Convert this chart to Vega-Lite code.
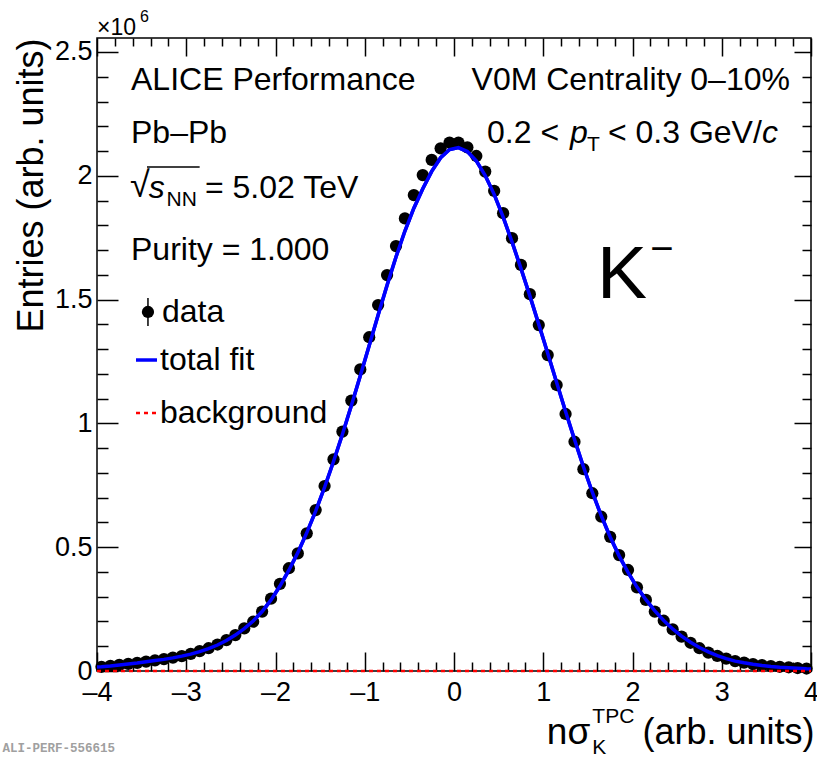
{
  "$schema": "https://vega.github.io/schema/vega-lite/v6.json",
  "width": 714,
  "height": 633,
  "autosize": "none",
  "padding": {"left": 97, "top": 38, "right": 6, "bottom": 88},
  "background": "white",
  "config": {
    "view": {"stroke": "black", "strokeWidth": 1.5},
    "font": "Liberation Sans",
    "axis": {"domain": false, "grid": false, "tickColor": "black", "tickWidth": 1.5, "labelColor": "black", "labelFont": "Liberation Sans", "labelFontSize": 27, "titleColor": "black", "titleFont": "Liberation Sans", "titleFontWeight": "normal"},
    "text": {"font": "Liberation Sans", "color": "black", "baseline": "middle", "align": "left"}
  },
  "datasets": {
    "points": [
      {"x": -3.95, "y": 17000}, {"x": -3.85, "y": 21000}, {"x": -3.75, "y": 25000}, {"x": -3.65, "y": 29000},
      {"x": -3.55, "y": 33000}, {"x": -3.45, "y": 38000}, {"x": -3.35, "y": 43000}, {"x": -3.25, "y": 48000},
      {"x": -3.15, "y": 54000}, {"x": -3.05, "y": 60000}, {"x": -2.95, "y": 69000}, {"x": -2.85, "y": 80000},
      {"x": -2.75, "y": 92000}, {"x": -2.65, "y": 107000}, {"x": -2.55, "y": 125000}, {"x": -2.45, "y": 145000},
      {"x": -2.35, "y": 172000}, {"x": -2.25, "y": 199000}, {"x": -2.15, "y": 240000}, {"x": -2.05, "y": 292000},
      {"x": -1.95, "y": 352000}, {"x": -1.85, "y": 415000}, {"x": -1.75, "y": 475000}, {"x": -1.65, "y": 556000},
      {"x": -1.55, "y": 650000}, {"x": -1.45, "y": 747000}, {"x": -1.35, "y": 855000}, {"x": -1.25, "y": 967000},
      {"x": -1.15, "y": 1092000}, {"x": -1.05, "y": 1218000}, {"x": -0.95, "y": 1348000}, {"x": -0.85, "y": 1478000},
      {"x": -0.75, "y": 1599000}, {"x": -0.65, "y": 1716000}, {"x": -0.55, "y": 1828000}, {"x": -0.45, "y": 1922000},
      {"x": -0.35, "y": 2003000}, {"x": -0.25, "y": 2064000}, {"x": -0.15, "y": 2111000}, {"x": -0.05, "y": 2134000},
      {"x": 0.05, "y": 2134000}, {"x": 0.15, "y": 2115000}, {"x": 0.25, "y": 2080000}, {"x": 0.35, "y": 2017000},
      {"x": 0.45, "y": 1939000}, {"x": 0.55, "y": 1849000}, {"x": 0.65, "y": 1748000}, {"x": 0.75, "y": 1640000},
      {"x": 0.85, "y": 1522000}, {"x": 0.95, "y": 1397000}, {"x": 1.05, "y": 1276000}, {"x": 1.15, "y": 1155000},
      {"x": 1.25, "y": 1038000}, {"x": 1.35, "y": 926000}, {"x": 1.45, "y": 815000}, {"x": 1.55, "y": 718000},
      {"x": 1.65, "y": 623000}, {"x": 1.75, "y": 542000}, {"x": 1.85, "y": 468000}, {"x": 1.95, "y": 408000},
      {"x": 2.05, "y": 338000}, {"x": 2.15, "y": 287000}, {"x": 2.25, "y": 240000}, {"x": 2.35, "y": 203000},
      {"x": 2.45, "y": 168000}, {"x": 2.55, "y": 139000}, {"x": 2.65, "y": 114000}, {"x": 2.75, "y": 92000},
      {"x": 2.85, "y": 74000}, {"x": 2.95, "y": 61000}, {"x": 3.05, "y": 50000}, {"x": 3.15, "y": 40000},
      {"x": 3.25, "y": 34000}, {"x": 3.35, "y": 28000}, {"x": 3.45, "y": 24000}, {"x": 3.55, "y": 20000},
      {"x": 3.65, "y": 17000}, {"x": 3.75, "y": 15000}, {"x": 3.85, "y": 12000}, {"x": 3.95, "y": 10000}
    ],
    "fit": [
      {"x": -4.0, "y": 16000}, {"x": -3.95, "y": 17000}, {"x": -3.85, "y": 20000}, {"x": -3.75, "y": 24000},
      {"x": -3.65, "y": 28000}, {"x": -3.55, "y": 32000}, {"x": -3.45, "y": 37000}, {"x": -3.35, "y": 42000},
      {"x": -3.25, "y": 47000}, {"x": -3.15, "y": 53000}, {"x": -3.05, "y": 60000}, {"x": -2.95, "y": 68000},
      {"x": -2.85, "y": 78000}, {"x": -2.75, "y": 90000}, {"x": -2.65, "y": 105000}, {"x": -2.55, "y": 123000},
      {"x": -2.45, "y": 145000}, {"x": -2.35, "y": 171000}, {"x": -2.25, "y": 202000}, {"x": -2.15, "y": 240000},
      {"x": -2.05, "y": 287000}, {"x": -1.95, "y": 343000}, {"x": -1.85, "y": 407000}, {"x": -1.75, "y": 478000},
      {"x": -1.65, "y": 558000}, {"x": -1.55, "y": 646000}, {"x": -1.45, "y": 742000}, {"x": -1.35, "y": 846000},
      {"x": -1.25, "y": 956000}, {"x": -1.15, "y": 1072000}, {"x": -1.05, "y": 1192000}, {"x": -0.95, "y": 1315000},
      {"x": -0.85, "y": 1438000}, {"x": -0.75, "y": 1558000}, {"x": -0.65, "y": 1672000}, {"x": -0.55, "y": 1777000},
      {"x": -0.45, "y": 1869000}, {"x": -0.35, "y": 1948000}, {"x": -0.25, "y": 2018000}, {"x": -0.15, "y": 2073000},
      {"x": -0.05, "y": 2106000}, {"x": 0.05, "y": 2114000}, {"x": 0.15, "y": 2098000}, {"x": 0.25, "y": 2060000},
      {"x": 0.35, "y": 2001000}, {"x": 0.45, "y": 1925000}, {"x": 0.55, "y": 1834000}, {"x": 0.65, "y": 1733000},
      {"x": 0.75, "y": 1626000}, {"x": 0.85, "y": 1515000}, {"x": 0.95, "y": 1400000}, {"x": 1.05, "y": 1283000},
      {"x": 1.15, "y": 1165000}, {"x": 1.25, "y": 1048000}, {"x": 1.35, "y": 935000}, {"x": 1.45, "y": 825000},
      {"x": 1.55, "y": 722000}, {"x": 1.65, "y": 627000}, {"x": 1.75, "y": 541000}, {"x": 1.85, "y": 465000},
      {"x": 1.95, "y": 398000}, {"x": 2.05, "y": 339000}, {"x": 2.15, "y": 288000}, {"x": 2.25, "y": 243000},
      {"x": 2.35, "y": 204000}, {"x": 2.45, "y": 170000}, {"x": 2.55, "y": 141000}, {"x": 2.65, "y": 116000},
      {"x": 2.75, "y": 95000}, {"x": 2.85, "y": 77000}, {"x": 2.95, "y": 62000}, {"x": 3.05, "y": 50000},
      {"x": 3.15, "y": 40000}, {"x": 3.25, "y": 33000}, {"x": 3.35, "y": 27000}, {"x": 3.45, "y": 22000},
      {"x": 3.55, "y": 18000}, {"x": 3.65, "y": 15000}, {"x": 3.75, "y": 13000}, {"x": 3.85, "y": 11000},
      {"x": 3.95, "y": 9000}, {"x": 4.0, "y": 8500}
    ],
    "bkg": [{"x": -4.0, "y": 0}, {"x": 4.0, "y": 0}],
    "legendData": [{"x": -3.429, "y": 1450000, "ylo": 1393000, "yhi": 1506000}],
    "legendLines": [
      {"series": "total fit", "x1": -3.563, "x2": -3.328, "y": 1256000},
      {"series": "background", "x1": -3.563, "x2": -3.328, "y": 1042000}
    ],
    "overline": [{"x1": -3.44, "x2": -2.85, "y": 2036000}],
    "textMain": [
      {"x": -3.619, "y": 2387000, "text": "ALICE Performance"},
      {"x": -3.619, "y": 2173000, "text": "Pb–Pb"},
      {"x": -3.619, "y": 1700000, "text": "Purity = 1.000"},
      {"x": -2.79, "y": 1951000, "text": "= 5.02 TeV"},
      {"x": -3.272, "y": 1450000, "text": "data"},
      {"x": -3.294, "y": 1256000, "text": "total fit"},
      {"x": -3.294, "y": 1042000, "text": "background"},
      {"x": 0.37, "y": 2173000, "text": "0.2 <"},
      {"x": 1.725, "y": 2173000, "text": "< 0.3 GeV/"}
    ],
    "sqrtSign": [{"x": -3.63, "y": 1960000, "text": "√"}],
    "textRight": [{"x": 3.764, "y": 2387000, "text": "V0M Centrality 0–10%"}],
    "textItalic": [
      {"x": -3.42, "y": 1951000, "text": "s"},
      {"x": 1.3, "y": 2173000, "text": "p"},
      {"x": 3.45, "y": 2173000, "text": "c"}
    ],
    "textSub": [
      {"x": -3.22, "y": 1902000, "text": "NN"},
      {"x": 1.49, "y": 2124000, "text": "T"}
    ],
    "kaon": [{"x": 1.602, "y": 1599000, "text": "K"}],
    "kaonSup": [{"x": 2.2, "y": 1700000, "text": "−"}],
    "expo": [{"x": -4.0, "y": 2597000, "text": "×10"}],
    "expoSup": [{"x": -3.518, "y": 2641000, "text": "6"}],
    "xTitleMain": [{"x": 1.04, "y": -250000, "text": "nσ"}],
    "xTitleRight": [{"x": 4.04, "y": -250000, "text": "(arb. units)"}],
    "xTitleSup": [{"x": 1.55, "y": -186000, "text": "TPC"}],
    "xTitleSub": [{"x": 1.55, "y": -311000, "text": "K"}],
    "tag": [{"x": -5.06, "y": -311000, "text": "ALI-PERF-556615"}]
  },
  "layer": [
    {
      "data": {"name": "fit"},
      "mark": {"type": "line", "color": "#0000ff", "strokeWidth": 3.5, "clip": true},
      "encoding": {
        "x": {"field": "x", "type": "quantitative", "scale": {"domain": [-4, 4], "nice": false, "zero": false},
          "axis": {"orient": "bottom", "values": [-4, -3, -2, -1, 0, 1, 2, 3, 4], "tickSize": -19, "labelPadding": 27, "labelFlush": false, "labelOverlap": false, "labelExpr": "replace(datum.label, '−', '–')", "title": null}},
        "y": {"field": "y", "type": "quantitative", "scale": {"domain": [0, 2556500], "nice": false, "zero": false},
          "axis": {"orient": "left", "values": [0, 500000, 1000000, 1500000, 2000000, 2500000], "tickSize": -21, "labelPadding": 26, "labelFlush": false, "labelOverlap": false, "labelExpr": "datum.value / 1000000", "title": "Entries (arb. units)", "titleFontSize": 36, "titleAnchor": "end", "titlePadding": 4}}
      }
    },
    {
      "data": {"name": "points"},
      "mark": {"type": "circle", "color": "black", "opacity": 1, "size": 150},
      "encoding": {
        "x": {"field": "x", "type": "quantitative",
          "axis": {"orient": "bottom", "values": [-3.8, -3.6, -3.4, -3.2, -2.8, -2.6, -2.4, -2.2, -1.8, -1.6, -1.4, -1.2, -0.8, -0.6, -0.4, -0.2, 0.2, 0.4, 0.6, 0.8, 1.2, 1.4, 1.6, 1.8, 2.2, 2.4, 2.6, 2.8, 3.2, 3.4, 3.6, 3.8], "tickSize": -9, "labels": false, "title": null}},
        "y": {"field": "y", "type": "quantitative",
          "axis": {"orient": "left", "values": [100000, 200000, 300000, 400000, 600000, 700000, 800000, 900000, 1100000, 1200000, 1300000, 1400000, 1600000, 1700000, 1800000, 1900000, 2100000, 2200000, 2300000, 2400000], "tickSize": -11, "labels": false, "title": null}}
      }
    },
    {
      "data": {"name": "fit"},
      "mark": {"type": "line", "color": "#0000ff", "strokeWidth": 3.5, "clip": true},
      "encoding": {
        "x": {"field": "x", "type": "quantitative", "axis": null},
        "y": {"field": "y", "type": "quantitative", "axis": null}
      }
    },
    {
      "data": {"name": "bkg"},
      "mark": {"type": "line", "color": "#ff0000", "strokeWidth": 2.5, "strokeDash": [4, 4]},
      "encoding": {
        "x": {"field": "x", "type": "quantitative",
          "axis": {"orient": "top", "values": [-4, -3, -2, -1, 0, 1, 2, 3, 4], "tickSize": -18, "labels": false, "title": null}},
        "y": {"field": "y", "type": "quantitative",
          "axis": {"orient": "right", "values": [0, 500000, 1000000, 1500000, 2000000, 2500000], "tickSize": -17, "labels": false, "title": null}}
      }
    },
    {
      "data": {"name": "legendLines"},
      "transform": [{"filter": "datum.series == 'total fit'"}],
      "mark": {"type": "rule", "color": "#0000ff", "strokeWidth": 3.5},
      "encoding": {
        "x": {"field": "x1", "type": "quantitative",
          "axis": {"orient": "top", "values": [-3.8, -3.6, -3.4, -3.2, -2.8, -2.6, -2.4, -2.2, -1.8, -1.6, -1.4, -1.2, -0.8, -0.6, -0.4, -0.2, 0.2, 0.4, 0.6, 0.8, 1.2, 1.4, 1.6, 1.8, 2.2, 2.4, 2.6, 2.8, 3.2, 3.4, 3.6, 3.8], "tickSize": -8, "labels": false, "title": null}},
        "x2": {"field": "x2"},
        "y": {"field": "y", "type": "quantitative",
          "axis": {"orient": "right", "values": [100000, 200000, 300000, 400000, 600000, 700000, 800000, 900000, 1100000, 1200000, 1300000, 1400000, 1600000, 1700000, 1800000, 1900000, 2100000, 2200000, 2300000, 2400000], "tickSize": -9, "labels": false, "title": null}}
      }
    },
    {
      "data": {"name": "legendLines"},
      "transform": [{"filter": "datum.series == 'background'"}],
      "mark": {"type": "rule", "color": "#ff0000", "strokeWidth": 2.5, "strokeDash": [4, 4]},
      "encoding": {
        "x": {"field": "x1", "type": "quantitative", "axis": null},
        "x2": {"field": "x2"},
        "y": {"field": "y", "type": "quantitative", "axis": null}
      }
    },
    {
      "data": {"name": "legendData"},
      "mark": {"type": "rule", "color": "black", "strokeWidth": 1.5},
      "encoding": {
        "x": {"field": "x", "type": "quantitative", "axis": null},
        "y": {"field": "ylo", "type": "quantitative", "axis": null},
        "y2": {"field": "yhi"}
      }
    },
    {
      "data": {"name": "legendData"},
      "mark": {"type": "circle", "color": "black", "opacity": 1, "size": 150},
      "encoding": {
        "x": {"field": "x", "type": "quantitative", "axis": null},
        "y": {"field": "y", "type": "quantitative", "axis": null}
      }
    },
    {
      "data": {"name": "overline"},
      "mark": {"type": "rule", "color": "black", "strokeWidth": 1.5},
      "encoding": {
        "x": {"field": "x1", "type": "quantitative", "axis": null},
        "x2": {"field": "x2"},
        "y": {"field": "y", "type": "quantitative", "axis": null}
      }
    },
    {
      "data": {"name": "textMain"},
      "mark": {"type": "text", "fontSize": 32},
      "encoding": {
        "x": {"field": "x", "type": "quantitative", "axis": null},
        "y": {"field": "y", "type": "quantitative", "axis": null},
        "text": {"field": "text"}
      }
    },
    {
      "data": {"name": "sqrtSign"},
      "mark": {"type": "text", "fontSize": 36},
      "encoding": {
        "x": {"field": "x", "type": "quantitative", "axis": null},
        "y": {"field": "y", "type": "quantitative", "axis": null},
        "text": {"field": "text"}
      }
    },
    {
      "data": {"name": "textRight"},
      "mark": {"type": "text", "fontSize": 32, "align": "right"},
      "encoding": {
        "x": {"field": "x", "type": "quantitative", "axis": null},
        "y": {"field": "y", "type": "quantitative", "axis": null},
        "text": {"field": "text"}
      }
    },
    {
      "data": {"name": "textItalic"},
      "mark": {"type": "text", "fontSize": 32, "fontStyle": "italic"},
      "encoding": {
        "x": {"field": "x", "type": "quantitative", "axis": null},
        "y": {"field": "y", "type": "quantitative", "axis": null},
        "text": {"field": "text"}
      }
    },
    {
      "data": {"name": "textSub"},
      "mark": {"type": "text", "fontSize": 21},
      "encoding": {
        "x": {"field": "x", "type": "quantitative", "axis": null},
        "y": {"field": "y", "type": "quantitative", "axis": null},
        "text": {"field": "text"}
      }
    },
    {
      "data": {"name": "kaon"},
      "mark": {"type": "text", "fontSize": 75},
      "encoding": {
        "x": {"field": "x", "type": "quantitative", "axis": null},
        "y": {"field": "y", "type": "quantitative", "axis": null},
        "text": {"field": "text"}
      }
    },
    {
      "data": {"name": "kaonSup"},
      "mark": {"type": "text", "fontSize": 40},
      "encoding": {
        "x": {"field": "x", "type": "quantitative", "axis": null},
        "y": {"field": "y", "type": "quantitative", "axis": null},
        "text": {"field": "text"}
      }
    },
    {
      "data": {"name": "expo"},
      "mark": {"type": "text", "fontSize": 23},
      "encoding": {
        "x": {"field": "x", "type": "quantitative", "axis": null},
        "y": {"field": "y", "type": "quantitative", "axis": null},
        "text": {"field": "text"}
      }
    },
    {
      "data": {"name": "expoSup"},
      "mark": {"type": "text", "fontSize": 16},
      "encoding": {
        "x": {"field": "x", "type": "quantitative", "axis": null},
        "y": {"field": "y", "type": "quantitative", "axis": null},
        "text": {"field": "text"}
      }
    },
    {
      "data": {"name": "xTitleMain"},
      "mark": {"type": "text", "fontSize": 37},
      "encoding": {
        "x": {"field": "x", "type": "quantitative", "axis": null},
        "y": {"field": "y", "type": "quantitative", "axis": null},
        "text": {"field": "text"}
      }
    },
    {
      "data": {"name": "xTitleRight"},
      "mark": {"type": "text", "fontSize": 36, "align": "right"},
      "encoding": {
        "x": {"field": "x", "type": "quantitative", "axis": null},
        "y": {"field": "y", "type": "quantitative", "axis": null},
        "text": {"field": "text"}
      }
    },
    {
      "data": {"name": "xTitleSup"},
      "mark": {"type": "text", "fontSize": 21},
      "encoding": {
        "x": {"field": "x", "type": "quantitative", "axis": null},
        "y": {"field": "y", "type": "quantitative", "axis": null},
        "text": {"field": "text"}
      }
    },
    {
      "data": {"name": "xTitleSub"},
      "mark": {"type": "text", "fontSize": 21},
      "encoding": {
        "x": {"field": "x", "type": "quantitative", "axis": null},
        "y": {"field": "y", "type": "quantitative", "axis": null},
        "text": {"field": "text"}
      }
    },
    {
      "data": {"name": "tag"},
      "mark": {"type": "text", "fontSize": 12.5, "font": "Liberation Mono", "fontWeight": "bold", "color": "#a0a0a0"},
      "encoding": {
        "x": {"field": "x", "type": "quantitative", "axis": null},
        "y": {"field": "y", "type": "quantitative", "axis": null},
        "text": {"field": "text"}
      }
    }
  ],
  "resolve": {"axis": {"x": "independent", "y": "independent"}}
}
